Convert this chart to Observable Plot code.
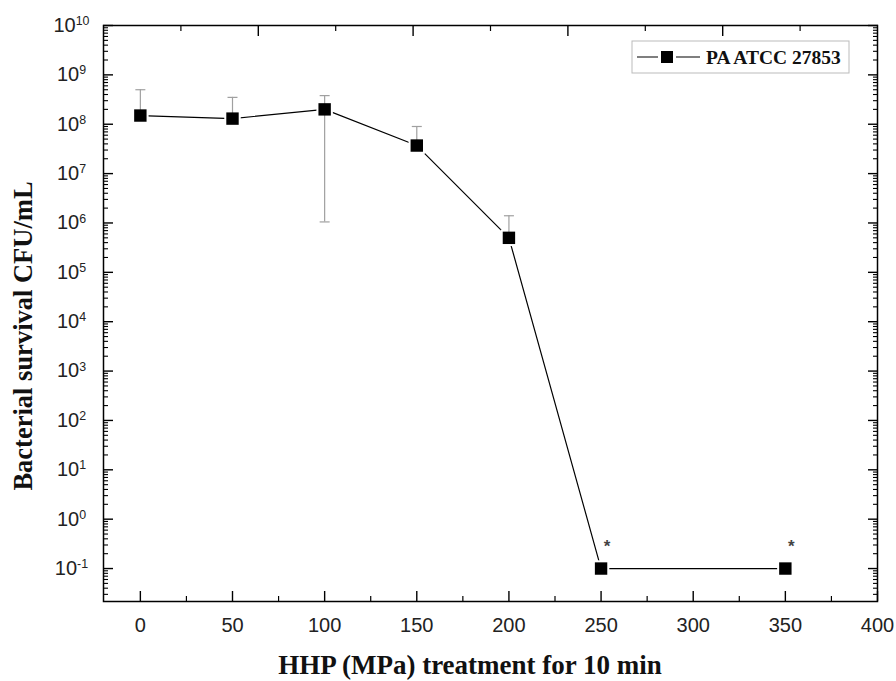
<!DOCTYPE html>
<html>
<head>
<meta charset="utf-8">
<script src="https://cdn.jsdelivr.net/npm/d3@7"></script>
<script src="https://cdn.jsdelivr.net/npm/@observablehq/plot@0.6"></script>
<style>
  html, body { margin: 0; padding: 0; background: #fff; }
  #chart { width: 896px; height: 681px; }
</style>
</head>
<body>
<div id="chart"></div>
<script>
// ---- data ----
const pressure  = [0, 50, 100, 150, 200, 250, 350];           // HHP (MPa)
const survival  = [1.5e8, 1.3e8, 2.0e8, 3.7e7, 5.0e5, 0.1, 0.1]; // CFU/mL
const errUpper  = [5.0e8, 3.5e8, 3.8e8, 9.0e7, 1.4e6, null, null];
const errLower  = [null, null, 1.05e6, null, null, null, null];
const starred   = [false, false, false, false, false, true, true];
const seriesName = "PA ATCC 27853";
const xTicks = [0, 50, 100, 150, 200, 250, 300, 350, 400];
const xMinorTicks = [25, 75, 125, 175, 225, 275, 325, 375];
const yExponents = [-1, 0, 1, 2, 3, 4, 5, 6, 7, 8, 9, 10];
const xTitle = "HHP (MPa) treatment for 10 min";
const yTitle = "Bacterial survival CFU/mL";

const rows = pressure.map((p, i) => ({p, v: survival[i], hi: errUpper[i], lo: errLower[i], star: starred[i]}));

const xDomain = [-20, 400];
const yDomain = [0.0215, 1e10];
const yMajor = yExponents.map(e => Math.pow(10, e));
const yMinor = [];
for (let e = -2; e < 10; e++) for (let k = 2; k <= 9; k++) {
  const v = k * Math.pow(10, e);
  if (v >= yDomain[0] && v <= yDomain[1]) yMinor.push(v);
}
// secondary (top) axis divisions, as in the original software
const topMajor = d3.range(0, 11, 2).map(k => xDomain[0] + k * (xDomain[1] - xDomain[0]) / 10).slice(1, -1);
const topMinor = d3.range(1, 11, 2).map(k => xDomain[0] + k * (xDomain[1] - xDomain[0]) / 10);

const capSymbol = { draw(ctx) { ctx.moveTo(-5, 0); ctx.lineTo(5, 0); } };
const errColor = "#a0a0a0";
const blank = () => "";

const chart = Plot.plot({
  width: 896,
  height: 681,
  marginLeft: 103,
  marginRight: 19,
  marginTop: 25,
  marginBottom: 80,
  style: { fontFamily: "'Liberation Sans', Arial, sans-serif", background: "#fff" },
  x: { domain: xDomain, label: null },
  y: { type: "log", domain: yDomain, label: null },
  marks: [
    // bottom axis
    Plot.axisX({ anchor: "bottom", ticks: xTicks, tickSize: -10, tickPadding: 26, fontSize: 20, strokeWidth: 1.4, label: null, tickFormat: d => String(d), fill: "#222" }),
    Plot.axisX({ anchor: "bottom", ticks: xMinorTicks, tickSize: -5, strokeWidth: 1.2, label: null, tickFormat: blank }),
    // top axis
    Plot.axisX({ anchor: "top", ticks: topMajor, tickSize: -10, strokeWidth: 1.4, label: null, tickFormat: blank }),
    Plot.axisX({ anchor: "top", ticks: topMinor, tickSize: -5, strokeWidth: 1.2, label: null, tickFormat: blank }),
    // left axis
    Plot.axisY({ anchor: "left", ticks: yMajor, tickSize: -10, tickPadding: 42, fontSize: 20, strokeWidth: 1.4, label: null,
                 tickFormat: d => "10^" + Math.round(Math.log10(d)), fill: "#222" }),
    Plot.axisY({ anchor: "left", ticks: yMinor, tickSize: -5, strokeWidth: 1.1, label: null, tickFormat: blank }),
    // right axis
    Plot.axisY({ anchor: "right", ticks: yMajor, tickSize: -10, strokeWidth: 1.4, label: null, tickFormat: blank }),
    Plot.axisY({ anchor: "right", ticks: yMinor, tickSize: -5, strokeWidth: 1.1, label: null, tickFormat: blank }),
    Plot.frame({ stroke: "#000", strokeWidth: 1.5 }),
    // series
    Plot.line(rows, { x: "p", y: "v", stroke: "#000", strokeWidth: 1.2 }),
    Plot.dot(rows, { x: "p", y: "v", symbol: "square", r: 9.3, fill: "#fff" }),
    Plot.ruleX(rows.filter(d => d.hi != null), { x: "p", y1: "v", y2: "hi", stroke: errColor, strokeWidth: 1.2 }),
    Plot.ruleX(rows.filter(d => d.lo != null), { x: "p", y1: "lo", y2: "v", stroke: errColor, strokeWidth: 1.2 }),
    Plot.dot(rows.filter(d => d.hi != null), { x: "p", y: "hi", symbol: capSymbol, stroke: errColor, strokeWidth: 1.2 }),
    Plot.dot(rows.filter(d => d.lo != null), { x: "p", y: "lo", symbol: capSymbol, stroke: errColor, strokeWidth: 1.2 }),
    Plot.dot(rows, { x: "p", y: "v", symbol: "square", r: 7, fill: "#000" }),
    Plot.text(rows.filter(d => d.star), { x: "p", y: "v", text: () => "*", dx: 6, dy: -22, fontSize: 17, fontWeight: "bold", fill: "#444" })
  ]
});

const svg = d3.select(chart);

// superscript exponents on the y tick labels, centred like the original
svg.selectAll('g[aria-label="y-axis tick label"] text').each(function () {
  const t = d3.select(this);
  const m = t.text().match(/^10\^(-?\d+)$/);
  if (!m) return;
  t.text("");
  t.attr("text-anchor", "middle");
  t.append("tspan").text("10");
  t.append("tspan").attr("dy", "-0.55em").attr("font-size", "0.62em").text(m[1]);
});

const serif = "'Liberation Serif', 'Times New Roman', serif";

// axis titles
svg.append("text")
  .attr("x", 470).attr("y", 674)
  .attr("text-anchor", "middle")
  .attr("font-family", serif)
  .attr("font-weight", "bold").attr("font-size", 27).attr("fill", "#111")
  .text(xTitle);
svg.append("text")
  .attr("transform", "translate(32,336) rotate(-90)")
  .attr("text-anchor", "middle")
  .attr("font-family", serif)
  .attr("font-weight", "bold").attr("font-size", 26.5).attr("fill", "#111")
  .text(yTitle);

// legend
const lg = svg.append("g");
lg.append("rect").attr("x", 632).attr("y", 41).attr("width", 217).attr("height", 32)
  .attr("fill", "#fff").attr("stroke", "#bbb").attr("stroke-width", 1);
lg.append("line").attr("x1", 637).attr("x2", 700).attr("y1", 57).attr("y2", 57).attr("stroke", "#000").attr("stroke-width", 1.2);
lg.append("rect").attr("x", 667 - 9).attr("y", 57 - 9).attr("width", 18).attr("height", 18).attr("fill", "#fff");
lg.append("rect").attr("x", 667 - 6).attr("y", 57 - 6).attr("width", 12).attr("height", 12).attr("fill", "#000");
lg.append("text").attr("x", 706).attr("y", 63.5)
  .attr("text-anchor", "start")
  .attr("font-family", serif)
  .attr("font-weight", "bold").attr("font-size", 19.5).attr("fill", "#111")
  .text(seriesName);

document.getElementById("chart").appendChild(chart);
</script>
</body>
</html>
